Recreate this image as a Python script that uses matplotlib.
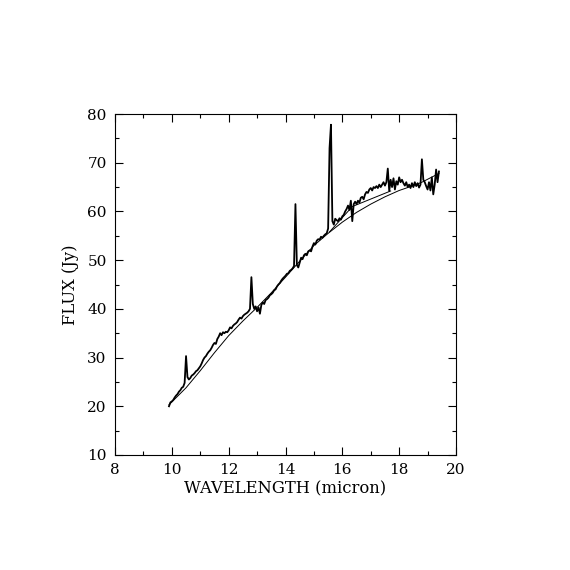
import numpy as np
import matplotlib
matplotlib.use('Agg')
import matplotlib.pyplot as plt
from matplotlib.ticker import MultipleLocator

# spectrum sampled every 0.05 micron from 9.90 to 19.40
wavelength = np.round(np.arange(9.90, 19.401, 0.05), 2)
flux = [
    20.0, 20.8, 21.0, 21.3, 21.8, 22.2, 22.5, 23.0, 23.3, 23.8,
    24.0, 24.8, 30.3, 26.0, 25.5, 25.8, 26.3, 26.5, 26.8, 27.2,
    27.4, 27.8, 28.2, 28.8, 29.5, 30.0, 30.3, 30.8, 31.2, 31.5,
    32.0, 32.6, 33.0, 32.8, 33.8, 34.3, 35.0, 34.6, 35.2, 35.0,
    35.3, 35.2, 35.6, 36.2, 36.0, 36.5, 36.8, 37.0, 37.3, 37.8,
    38.2, 38.0, 38.5, 38.8, 39.0, 39.2, 39.5, 40.0, 46.5, 41.0,
    40.0, 40.5, 39.5, 40.3, 39.0, 40.8, 41.3, 41.0, 41.8, 42.0,
    42.3, 42.8, 43.0, 43.3, 43.8, 44.0, 44.6, 45.0, 45.3, 45.8,
    46.2, 46.5, 46.8, 47.2, 47.3, 47.8, 48.0, 48.3, 48.8, 61.5,
    49.0, 48.5, 49.5, 50.5, 50.2, 51.0, 51.3, 51.0, 51.8, 52.0,
    51.8, 52.8, 53.5, 53.2, 54.0, 54.3, 54.2, 54.8, 54.6, 55.0,
    55.3, 55.5, 56.5, 73.0, 77.8, 58.0, 57.3, 58.5, 58.2, 58.0,
    58.6, 58.3, 59.0, 59.3, 60.0, 60.5, 61.2, 60.3, 62.2, 58.0,
    61.5, 62.0, 61.5, 62.2, 61.8, 62.8, 63.0, 62.5, 63.5, 64.0,
    63.8, 64.5, 64.8, 64.3, 65.0, 64.8, 65.2, 64.8, 65.5, 65.0,
    65.5, 66.0, 65.3, 66.0, 68.8, 64.2, 66.5, 65.0, 66.8, 64.5,
    66.2, 65.5, 67.0, 66.0, 66.5, 65.8, 65.3, 66.0, 65.0, 65.5,
    64.8, 65.8, 65.0, 66.0, 65.2, 65.8, 64.9, 65.5, 70.7, 66.5,
    66.0, 65.2, 64.5, 66.0, 64.3, 67.0, 63.5, 65.5, 68.6, 66.0,
    68.2,
]

# continuum fit
cont_wave = [9.9, 10.5, 11.0, 11.5, 12.0, 12.5, 13.0, 13.5, 14.0, 14.5,
             15.0, 15.5, 16.0, 16.5, 17.0, 17.5, 18.0, 18.5, 18.8, 19.4]
cont_flux = [20.3, 23.8, 27.3, 31.0, 34.5, 37.5, 40.3, 43.3, 46.5, 49.8,
             53.0, 55.5, 57.8, 59.8, 61.5, 63.0, 64.3, 65.3, 66.0, 67.8]

# straight segments between continuum anchor points
knot_wave = [15.55, 16.35, 17.7]
knot_flux = [55.8, 61.0, 64.2]

plt.rcParams['font.family'] = 'DejaVu Serif'

fig = plt.figure(figsize=(5.7, 5.7), dpi=100)
ax = fig.add_axes([115 / 570, 115 / 570, 341 / 570, 341 / 570])

ax.plot(wavelength, flux[:len(wavelength)], c='black', lw=1.3)
ax.plot(cont_wave, cont_flux, c='black', lw=0.7)
ax.plot(knot_wave, knot_flux, c='black', lw=0.7)

ax.set_xlim(8, 20)
ax.set_ylim(10, 80)
ax.xaxis.set_major_locator(MultipleLocator(2))
ax.xaxis.set_minor_locator(MultipleLocator(1))
ax.yaxis.set_major_locator(MultipleLocator(10))
ax.yaxis.set_minor_locator(MultipleLocator(5))
ax.tick_params(which='both', direction='in', top=True, right=True,
               labelsize=11, width=0.8)
ax.tick_params(which='major', length=6, pad=6)
ax.tick_params(which='minor', length=3)
for s in ax.spines.values():
    s.set_linewidth(0.8)

ax.set_xlabel('WAVELENGTH (micron)', fontsize=11.8, labelpad=2)
ax.set_ylabel('FLUX (Jy)', fontsize=11.8, labelpad=6)

fig.savefig('out.png', dpi=100)
